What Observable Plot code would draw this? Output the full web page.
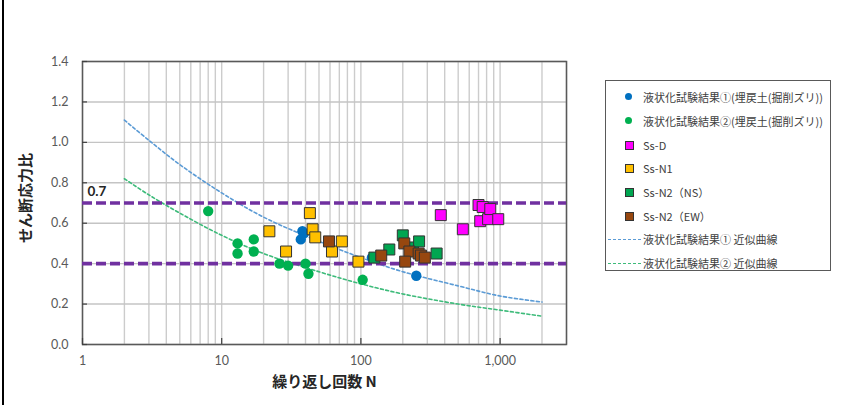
<!DOCTYPE html>
<html>
<head>
<meta charset="utf-8">
<script src="https://cdn.jsdelivr.net/npm/d3@7"></script>
<script src="https://cdn.jsdelivr.net/npm/@observablehq/plot@0.6"></script>
<style>
  html, body { margin: 0; padding: 0; background: #fff; }
  body { width: 842px; height: 405px; position: relative; overflow: hidden;
         font-family: Lato, "Noto Sans CJK JP", sans-serif; }
  #frameLine { position: absolute; left: 2px; top: 0; width: 2px; height: 405px; background: #000; }
  #ylabel { position: absolute; left: 25px; top: 198px; transform: translate(-50%, -50%) rotate(-90deg);
            font-family: "Noto Sans CJK JP", sans-serif; font-weight: bold; font-size: 15px; color: #262626;
            white-space: nowrap; line-height: 16px; }
  #legend { position: absolute; left: 605px; top: 80px; width: 226px; height: 191px;
            border: 1.5px solid #595959; box-sizing: border-box; background: #fff; }
  .row { position: absolute; left: 0; height: 20px; width: 100%; }
  .row span.t { position: absolute; left: 37px; top: 0; line-height: 20px; font-size: 11px;
                color: #404040; font-family: "Noto Sans CJK JP", sans-serif; white-space: nowrap; }
  .sym { position: absolute; }
</style>
</head>
<body>
<div id="chart"></div>
<div id="frameLine"></div>
<div id="ylabel"></div>
<div id="legend"></div>
<script>
// ---- axis / tick data ----
const xTicks = [1, 10, 100, 1000];
const xTickLabels = ["1", "10", "100", "1,000"];
const yTicks = [0, 0.2, 0.4, 0.6, 0.8, 1.0, 1.2, 1.4];
const gridX = [1,2,3,4,5,6,7,8,9,10,20,30,40,50,60,70,80,90,100,200,300,400,500,600,700,800,900,1000,2000,3000];
const thresholds = [0.7, 0.4];
const thresholdLabel = ["0.7"];
const xTitle = "繰り返し回数 N";
const yTitle = "せん断応力比";

// ---- series data (N, stress ratio) ----
const test1N = [38, 39, 37, 120, 250];
const test1V = [0.56, 0.55, 0.52, 0.43, 0.34];

const test2N = [8, 13, 13, 17, 17, 26, 30, 40, 42, 103];
const test2V = [0.66, 0.50, 0.45, 0.52, 0.46, 0.40, 0.39, 0.40, 0.35, 0.32];

const ssDN = [375, 540, 700, 720, 750, 820, 850, 970];
const ssDV = [0.64, 0.57, 0.69, 0.61, 0.68, 0.62, 0.67, 0.62];

const ssN1N = [22, 29, 43, 45, 47, 62, 73, 96];
const ssN1V = [0.56, 0.46, 0.65, 0.57, 0.53, 0.46, 0.51, 0.41];

const ssN2NSN = [125, 160, 200, 237, 262, 350];
const ssN2NSV = [0.43, 0.47, 0.54, 0.48, 0.51, 0.45];

const ssN2EWN = [59, 140, 205, 223, 208, 260, 270, 288];
const ssN2EWV = [0.51, 0.44, 0.50, 0.46, 0.41, 0.45, 0.44, 0.43];

// approximate curves
const curveN = [2, 3, 5, 10, 20, 50, 100, 200, 500, 1000, 2000];
const curve1V = [1.11, 1.01, 0.89, 0.75, 0.63, 0.51, 0.43, 0.36, 0.29, 0.24, 0.21];
const curve2V = [0.82, 0.74, 0.65, 0.54, 0.45, 0.36, 0.30, 0.25, 0.20, 0.17, 0.14];

const seriesNames = [
  "液状化試験結果①(埋戻土(掘削ズリ))",
  "液状化試験結果②(埋戻土(掘削ズリ))",
  "Ss-D",
  "Ss-N1",
  "Ss-N2（NS）",
  "Ss-N2（EW）",
  "液状化試験結果① 近似曲線",
  "液状化試験結果② 近似曲線"
];
const colors = {
  blue: "#0070C0", green: "#00B050", magenta: "#FF00FF", yellow: "#FFC000",
  nsGreen: "#00A651", brown: "#97470F", curve1: "#5B9BD5", curve2: "#3DBB7A", purple: "#7030A0"
};

const zip = (xs, ys) => xs.map((x, i) => ({N: x, v: ys[i]}));
const t1 = zip(test1N, test1V), t2 = zip(test2N, test2V);
const sD = zip(ssDN, ssDV), sN1 = zip(ssN1N, ssN1V), sNS = zip(ssN2NSN, ssN2NSV), sEW = zip(ssN2EWN, ssN2EWV);
const c1 = zip(curveN, curve1V), c2 = zip(curveN, curve2V);

const sqR = 6.2, dotR = 5.2;
const font = 'Lato, "Noto Sans CJK JP", sans-serif';

const plot = Plot.plot({
  width: 842, height: 405,
  marginLeft: 82, marginRight: 276, marginTop: 61, marginBottom: 61,
  x: {type: "log", domain: [1, 3000]},
  y: {domain: [0, 1.4]},
  style: {fontFamily: font, background: "transparent"},
  marks: [
    Plot.ruleX(gridX, {stroke: "#cccccc", strokeWidth: 1.4}),
    Plot.ruleY(yTicks, {stroke: "#c4c4c4", strokeWidth: 1.4}),
    Plot.frame({stroke: "#595959", strokeWidth: 1.5}),
    Plot.tickX(xTicks, {stroke: "#404040", strokeWidth: 1.2, insetTop: 277}),
    Plot.tickY(yTicks, {stroke: "#404040", strokeWidth: 1.2, insetRight: 479}),
    Plot.axisY(yTicks, {tickSize: 0, tickPadding: 14, tickFormat: d => d.toFixed(1),
      fontSize: 12.5, fill: "#595959", label: null}),
    Plot.axisX(xTicks, {tickSize: 0, tickPadding: 12, tickFormat: d => xTickLabels[xTicks.indexOf(d)],
      fontSize: 12.5, fill: "#595959", label: null}),
    Plot.text([xTitle], {frameAnchor: "bottom", dy: 42, fontSize: 15, fontWeight: "bold",
      fill: "#262626", fontFamily: '"Noto Sans CJK JP", sans-serif'}),
    Plot.line(c1, {x: "N", y: "v", stroke: colors.curve1, strokeWidth: 1.6, strokeDasharray: "3,2.5", curve: "catmull-rom"}),
    Plot.line(c2, {x: "N", y: "v", stroke: colors.curve2, strokeWidth: 1.6, strokeDasharray: "3,2.5", curve: "catmull-rom"}),
    Plot.ruleY(thresholds, {stroke: colors.purple, strokeWidth: 3.6, strokeDasharray: "10,4"}),
    Plot.text(thresholdLabel, {x: () => xTicks[0], y: d => +d, text: d => d, textAnchor: "start",
      dx: 5, dy: -11, fontSize: 13.5, fontWeight: "bold", fill: "#262626"}),
    Plot.dot(t2, {x: "N", y: "v", r: dotR, fill: colors.green, stroke: "none"}),
    Plot.dot(t1, {x: "N", y: "v", r: dotR, fill: colors.blue, stroke: "none"}),
    Plot.dot(sD, {x: "N", y: "v", r: sqR, symbol: "square", fill: colors.magenta, stroke: "#333", strokeWidth: 1}),
    Plot.dot(sN1, {x: "N", y: "v", r: sqR, symbol: "square", fill: colors.yellow, stroke: "#333", strokeWidth: 1}),
    Plot.dot(sNS, {x: "N", y: "v", r: sqR, symbol: "square", fill: colors.nsGreen, stroke: "#333", strokeWidth: 1}),
    Plot.dot(sEW, {x: "N", y: "v", r: sqR, symbol: "square", fill: colors.brown, stroke: "#333", strokeWidth: 1})
  ]
});
document.getElementById("chart").appendChild(plot);
document.getElementById("ylabel").textContent = yTitle;

// ---- legend ----
const legend = document.getElementById("legend");
const legendKinds = [
  {type: "dot", color: colors.blue},
  {type: "dot", color: colors.green},
  {type: "sq", color: colors.magenta},
  {type: "sq", color: colors.yellow},
  {type: "sq", color: colors.nsGreen},
  {type: "sq", color: colors.brown},
  {type: "line", color: colors.curve1},
  {type: "line", color: colors.curve2}
];
const rowTop = [6, 30, 54, 77, 101, 125, 148, 172];
seriesNames.forEach((name, i) => {
  const row = document.createElement("div");
  row.className = "row";
  row.style.top = rowTop[i] + "px";
  const k = legendKinds[i];
  const sym = document.createElement("div");
  sym.className = "sym";
  if (k.type === "dot") {
    Object.assign(sym.style, {left: "19px", top: "6px", width: "7px", height: "7px", borderRadius: "50%", background: k.color});
  } else if (k.type === "sq") {
    Object.assign(sym.style, {left: "19px", top: "6px", width: "7px", height: "7px", background: k.color, border: "1px solid #333"});
  } else {
    Object.assign(sym.style, {left: "2px", top: "10px", width: "33px", height: "0", borderTop: "1.3px dashed " + k.color});
  }
  row.appendChild(sym);
  const t = document.createElement("span");
  t.className = "t";
  t.textContent = name;
  row.appendChild(t);
  legend.appendChild(row);
});
</script>
</body>
</html>
